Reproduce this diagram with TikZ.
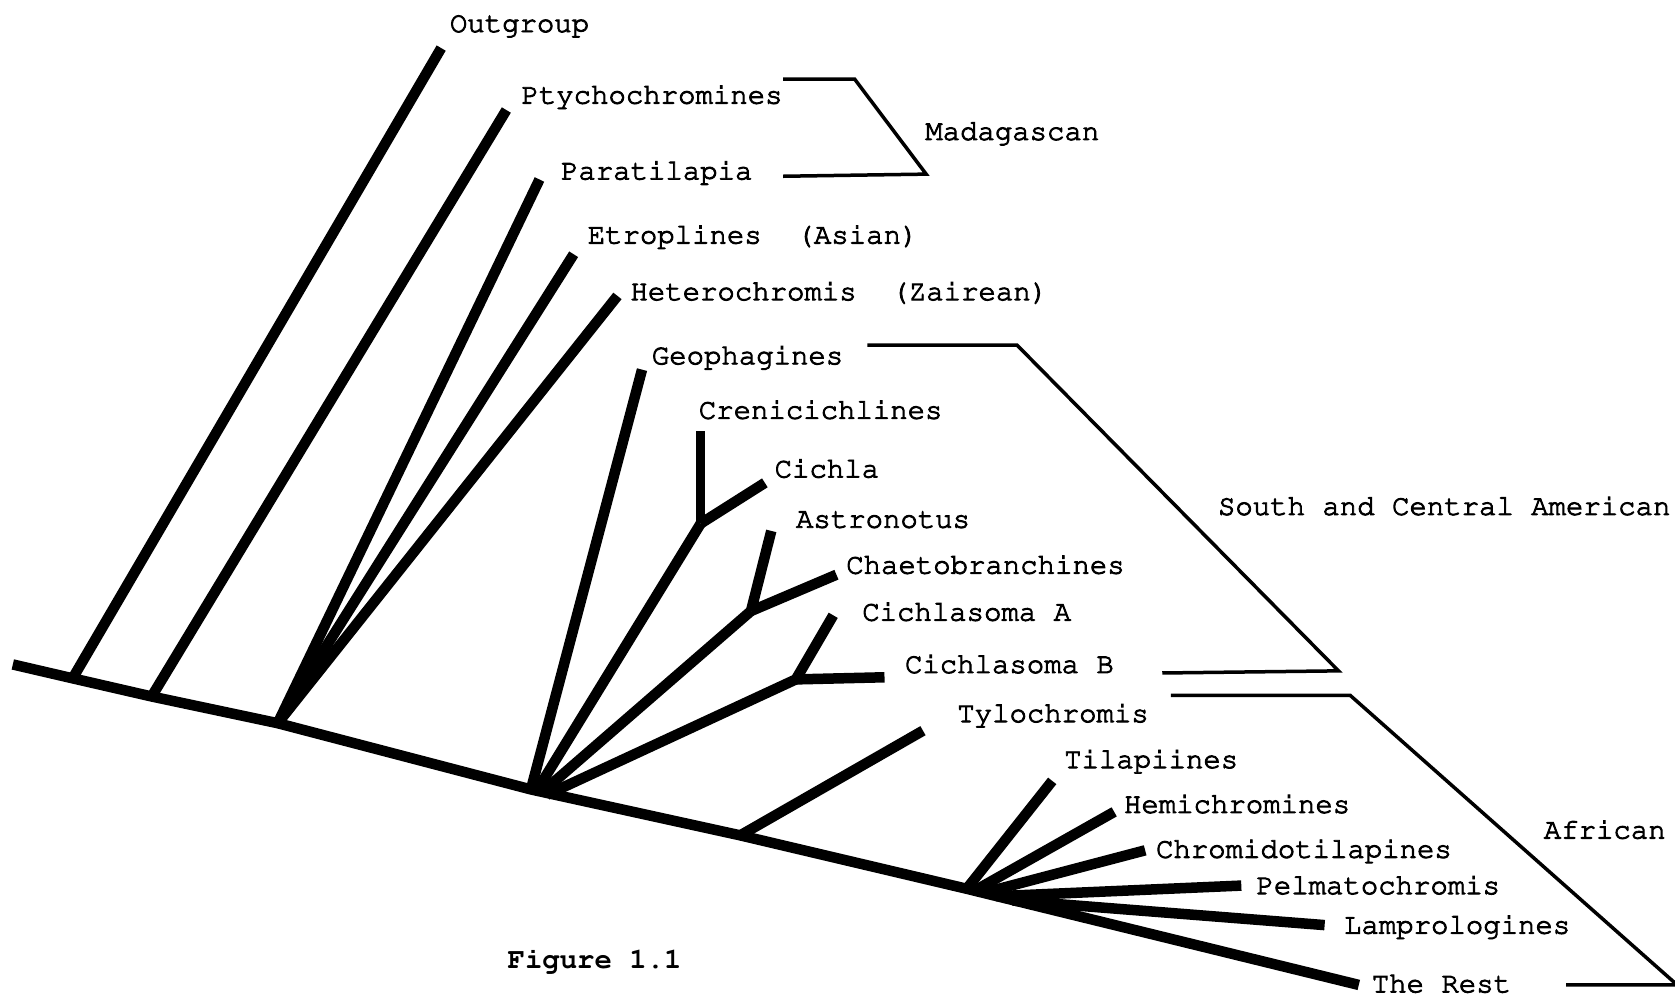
\documentclass[tikz,border=0pt]{standalone}
\usepackage[T1]{fontenc}
\renewcommand{\ttdefault}{pcr}
\usetikzlibrary{calc}
\newcommand{\heavytext}{\special{pdf:literal direct 2 Tr 0.9 w}}
\begin{document}
\begin{tikzpicture}[x=1.0682pt,y=-1.0682pt,
  br/.style={line width=10.5pt},
  brk/.style={line width=3.5pt},
  lbl/.style={anchor=base west, inner sep=0pt, font=\fontsize{29}{34}\selectfont\ttfamily\heavytext}]
\useasboundingbox (0,0) rectangle (1568,935);
% backbone points
\coordinate (r0) at (12,622);
\coordinate (b1) at (68,635);
\coordinate (b2) at (142,652);
\coordinate (b3) at (260,677);
\coordinate (b4) at (497,739);
\coordinate (b5) at (693,782);
\coordinate (b6) at (905,832);
\coordinate (bend) at (1272,922);
% leaves and inner nodes
\coordinate (out) at (413,45);
\coordinate (pty) at (474,103);
\coordinate (par) at (505,168);
\coordinate (etr) at (537,238);
\coordinate (het) at (578,277);
\coordinate (geo) at (601,346);
\coordinate (nCre) at (656,490);
\coordinate (cre) at (656,403);
\coordinate (cic) at (716,452);
\coordinate (nAst) at (703,572);
\coordinate (ast) at (722,497);
\coordinate (cha) at (783,538);
\coordinate (nCls) at (745,636);
\coordinate (clA) at (780,576);
\coordinate (clB) at (828,634);
\coordinate (tyl) at (864,684);
\coordinate (til) at (985,731);
\coordinate (hem) at (1043,760);
\coordinate (chr) at (1072,796);
\coordinate (pel) at (1162,829);
\coordinate (lam) at (1240,866);
\coordinate (a2) at (912,834);
\coordinate (a3) at (920,836);
\coordinate (a4) at (932,839);
\coordinate (a5) at (948,843);
\coordinate (s2) at (502,741);
\coordinate (s3) at (507,742);
\coordinate (s4) at (512,744);
% tree
\draw[br] (r0) -- (b1) -- (b2) -- (b3) -- (b4) -- (b5) -- (b6) -- (bend);
\draw[br] (b1) -- (out);
\draw[br] (b2) -- (pty);
\draw[br] (b3) -- (par);
\draw[br] (b3) -- (etr);
\draw[br] (b3) -- (het);
\draw[br] (b4) -- (geo);
\draw[br] (s2) -- (nCre);
\draw[line width=9pt] (nCre) -- (cre);
\draw[br] (nCre) -- (cic);
\draw[br] (s3) -- (nAst);
\draw[br] (nAst) -- (ast);
\draw[br] (nAst) -- (cha);
\draw[br] (s4) -- (nCls);
\draw[br] (nCls) -- (clA);
\draw[br] (nCls) -- (clB);
\draw[br] (b5) -- (tyl);
\draw[br] (b6) -- (til);
\draw[br] (a2) -- (hem);
\draw[br] (a3) -- (chr);
\draw[br] (a4) -- (pel);
\draw[br] (a5) -- (lam);
% labels
\node[lbl] (tOut) at (421,30) {Outgroup};
\node[lbl] (tPty) at (488,97) {Ptychochromines};
\node[lbl] (tPar) at (525,168) {Paratilapia};
\node[lbl] (tEtr) at (550,228) {Etroplines\ \ (Asian)};
\node[lbl] (tHet) at (590,281) {Heterochromis\ \ (Zairean)};
\node[lbl] (tGeo) at (610,341) {Geophagines};
\node[lbl] (tCre) at (654,392) {Crenicichlines};
\node[lbl] (tCic) at (725,447) {Cichla};
\node[lbl] (tAst) at (745,494) {Astronotus};
\node[lbl] (tCha) at (792,537) {Chaetobranchines};
\node[lbl] (tClA) at (807,581) {Cichlasoma A};
\node[lbl] (tClB) at (847,630) {Cichlasoma B};
\node[lbl] (tTyl) at (896,676) {Tylochromis};
\node[lbl] (tTil) at (996,719) {Tilapiines};
\node[lbl] (tHem) at (1052,761) {Hemichromines};
\node[lbl] (tChr) at (1082,803) {Chromidotilapines};
\node[lbl] (tPel) at (1176,837) {Pelmatochromis};
\node[lbl] (tLam) at (1258,874) {Lamprologines};
\node[lbl] (tRest) at (1284,929) {The Rest};
\node[lbl] (tMad) at (866,131) {Madagascan};
\node[lbl] (tSCA) at (1140,482) {South and Central American};
\node[lbl] (tAfr) at (1445,785) {African};
\node[lbl, font=\fontsize{29}{34}\selectfont\ttfamily\bfseries] (tFig) at (475,907) {Figure 1.1};
% brackets
\draw[brk] (733,74) -- (800,74) -- (867,163) -- (733,165);
\draw[brk] (812,323) -- (952,323) -- (1253,628) -- (1088,630);
\draw[brk] (1096,651) -- (1264,651) -- (1570,922) -- (1466,922);
\end{tikzpicture}
\end{document}
